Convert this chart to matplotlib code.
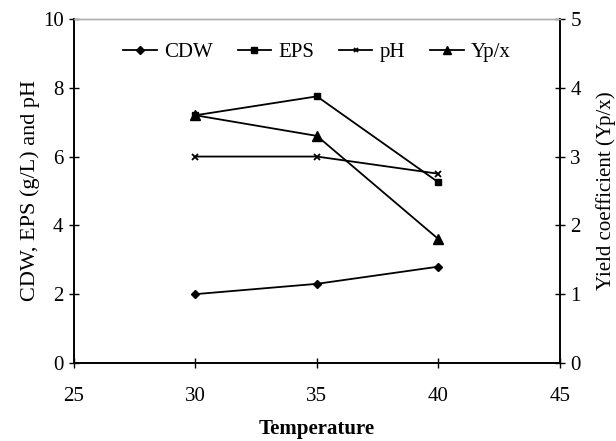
import matplotlib
matplotlib.use('Agg')
import matplotlib.pyplot as plt

plt.rcParams['font.family'] = ['Liberation Serif', 'DejaVu Serif']
plt.rcParams['font.size'] = 15

temperature = [30, 35, 40]
cdw = [2.0, 2.3, 2.8]
eps = [7.2, 7.75, 5.25]
ph = [6.0, 6.0, 5.5]
yield_px = [3.6, 3.3, 1.8]

fig = plt.figure(figsize=(6.16, 4.41), dpi=100)
ax = fig.add_axes([0.12, 0.177, 0.789, 0.78])
ax2 = ax.twinx()

kw = dict(color='black', lw=1.3)
l1, = ax.plot(temperature, cdw, marker='D', ms=4.5, label='CDW', **kw)
l2, = ax.plot(temperature, eps, marker='s', ms=5, label='EPS', **kw)
l3, = ax.plot(temperature, ph, marker='x', ms=4, mew=1.3, label='pH', **kw)
l4, = ax2.plot(temperature, yield_px, marker='^', ms=6.5, label='Yp/x', **kw)

ax.set_xlim(25, 45)
ax.set_ylim(0, 10)
ax2.set_ylim(0, 5)
ax.set_xticks([25, 30, 35, 40, 45])
ax.set_yticks([0, 2, 4, 6, 8, 10])
ax2.set_yticks([0, 1, 2, 3, 4, 5])

for a in (ax, ax2):
    a.tick_params(direction='inout', length=7, width=1, color='black', labelsize=15)
    for s in ('left', 'right', 'bottom'):
        a.spines[s].set_linewidth(1.2)
        a.spines[s].set_color('black')
    a.spines['top'].set_color('#b0b0b0')
    a.spines['top'].set_linewidth(1)
ax.tick_params(axis='x', pad=14)
ax.tick_params(axis='y', pad=4)
ax2.tick_params(axis='y', pad=4)

ax.set_xlabel('Temperature', fontweight='bold', fontsize=15, labelpad=9)
ax.set_ylabel('CDW, EPS (g/L) and pH', fontsize=16, labelpad=2)
ax2.set_ylabel('Yield coefficient (Yp/x)', fontsize=15, labelpad=11)

ax.legend(handles=[l1, l2, l3, l4], loc='upper center', ncol=4, frameon=False,
          bbox_to_anchor=(0.5, 0.985), handlelength=1.6, columnspacing=1.2,
          handletextpad=0.35, fontsize=15, markerscale=0.8)

fig.savefig('out.png', dpi=100)
